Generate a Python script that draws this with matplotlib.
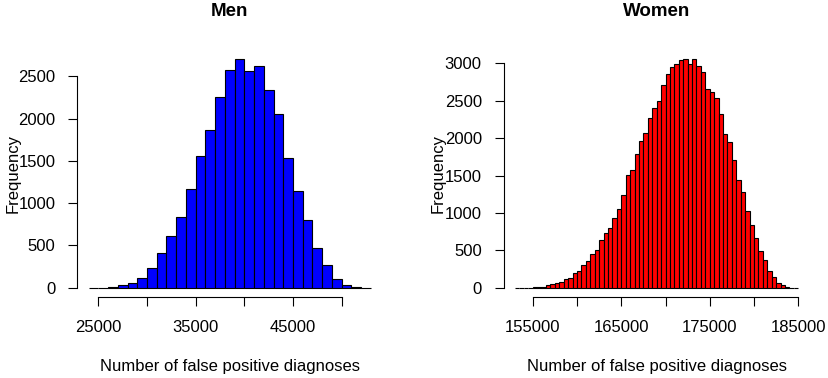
import numpy as np
import matplotlib
matplotlib.use("Agg")
import matplotlib.pyplot as plt

plt.rcParams["font.family"] = ["Liberation Sans", "DejaVu Sans"]

# histogram counts
men_bin_start = 24000
men_bin_width = 1000
men_counts = [0, 0, 12, 32, 59, 110, 236, 406, 611, 831, 1166, 1560, 1868,
              2250, 2577, 2703, 2561, 2616, 2336, 2049, 1537, 1139, 796,
              465, 272, 106, 28, 4, 0]
men_xticks = [25000, 30000, 35000, 40000, 45000, 50000]
men_xlabels = ["25000", "", "35000", "", "45000", ""]
men_yticks = [0, 500, 1000, 1500, 2000, 2500]

women_bin_start = 153000
women_bin_width = 500
women_counts = [0, 0, 0, 3, 8, 10, 15, 35, 55, 62, 80, 120, 136, 200, 223,
                310, 352, 448, 504, 633, 738, 794, 928, 1059, 1246, 1503,
                1572, 1790, 1960, 2071, 2274, 2399, 2494, 2713, 2859, 2946,
                2996, 3041, 3057, 2997, 3060, 2961, 2881, 2658, 2622, 2533,
                2319, 2061, 1945, 1704, 1445, 1284, 1026, 838, 660, 491,
                375, 223, 138, 67, 31, 9, 0, 0]
women_xticks = [155000, 160000, 165000, 170000, 175000, 180000, 185000]
women_xlabels = ["155000", "", "165000", "", "175000", "", "185000"]
women_yticks = [0, 500, 1000, 1500, 2000, 2500, 3000]


def draw_hist(ax, start, width, counts, color, title, xticks, xlabels, yticks,
              ax_left_px, ax_w_px, ax_top_px, ax_h_px, ylab_px):
    counts = np.array(counts)
    edges = start + width * np.arange(len(counts))
    ax.bar(edges, counts, width=width, align="edge", color=color,
           edgecolor="black", linewidth=0.8)
    lo, hi = edges[0], edges[-1] + width
    pad = 0.04 * (hi - lo)
    ax.set_xlim(lo - pad, hi + pad)
    ax.set_ylim(-0.04 * counts.max(), 1.04 * counts.max())

    for s in ["top", "right"]:
        ax.spines[s].set_visible(False)
    ax.spines["left"].set_bounds(yticks[0], yticks[-1])
    ax.spines["bottom"].set_bounds(xticks[0], xticks[-1])
    for s in ["left", "bottom"]:
        ax.spines[s].set_linewidth(0.8)

    ax.set_xticks(xticks)
    ax.set_xticklabels(xlabels)
    ax.set_yticks(yticks)
    ax.set_yticklabels([str(t) for t in yticks])
    ax.tick_params(length=6.8, width=0.8, labelsize=12)
    ax.tick_params(axis="x", pad=10)
    ax.tick_params(axis="y", pad=9)

    # R-style margin positions, in pixels of the 829x378 figure
    ax.set_title(title, fontsize=13.5, fontweight="bold", va="center", pad=0,
                 y=1 + (ax_top_px - 11.5) / ax_h_px)
    ax.set_xlabel("Number of false positive diagnoses", fontsize=12, va="center")
    ax.xaxis.set_label_coords(0.5, -(367 - (ax_top_px + ax_h_px)) / ax_h_px)
    ax.set_ylabel("Frequency", fontsize=12, va="center")
    ax.yaxis.set_label_coords((ylab_px - ax_left_px) / ax_w_px, 0.5)


fig = plt.figure(figsize=(8.29, 3.78), dpi=100)
ax1 = fig.add_axes([77.3 / 829, (378 - 296.8) / 378, 304.9 / 829, 246.8 / 378])
ax2 = fig.add_axes([503.7 / 829, (378 - 296.9) / 378, 305.9 / 829, 247.2 / 378])

draw_hist(ax1, men_bin_start, men_bin_width, men_counts, "#0000FF", "Men",
          men_xticks, men_xlabels, men_yticks, 77.3, 304.9, 50.0, 246.8, 13)
draw_hist(ax2, women_bin_start, women_bin_width, women_counts, "#FF0000", "Women",
          women_xticks, women_xlabels, women_yticks, 503.7, 305.9, 49.7, 247.2, 438)

fig.savefig("out.png", dpi=100)
